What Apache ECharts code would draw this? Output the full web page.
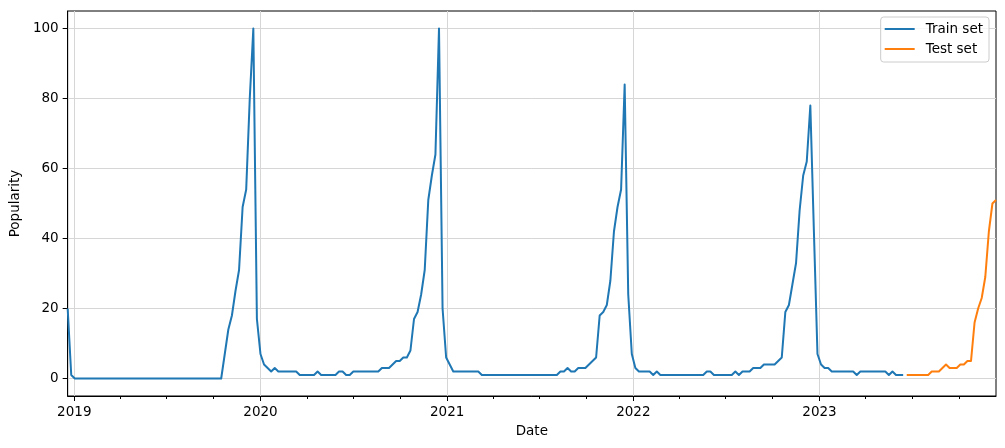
<!DOCTYPE html>
<html>
<head>
<meta charset="utf-8">
<title>Popularity</title>
<script src="https://cdn.jsdelivr.net/npm/echarts@6/dist/echarts.min.js"></script>
<style>
  html, body { margin: 0; padding: 0; background: #fff; }
  #chart { width: 1005px; height: 448px; }
</style>
</head>
<body>
<div id="chart"></div>
<script>
// first week of the series, one point per week after that
const startDate = '2018-12-19';

const trainValues = [
  20, 1, 0, 0, 0, 0, 0, 0, 0, 0,
  0, 0, 0, 0, 0, 0, 0, 0, 0, 0,
  0, 0, 0, 0, 0, 0, 0, 0, 0, 0,
  0, 0, 0, 0, 0, 0, 0, 0, 0, 0,
  0, 0, 0, 0, 7, 14, 18, 25, 31, 49,
  54, 80, 100, 17, 7, 4, 3, 2, 3, 2,
  2, 2, 2, 2, 2, 1, 1, 1, 1, 1,
  2, 1, 1, 1, 1, 1, 2, 2, 1, 1,
  2, 2, 2, 2, 2, 2, 2, 2, 3, 3,
  3, 4, 5, 5, 6, 6, 8, 17, 19, 24,
  31, 51, 58, 64, 100, 20, 6, 4, 2, 2,
  2, 2, 2, 2, 2, 2, 1, 1, 1, 1,
  1, 1, 1, 1, 1, 1, 1, 1, 1, 1,
  1, 1, 1, 1, 1, 1, 1, 1, 2, 2,
  3, 2, 2, 3, 3, 3, 4, 5, 6, 18,
  19, 21, 28, 42, 49, 54, 84, 24, 7, 3,
  2, 2, 2, 2, 1, 2, 1, 1, 1, 1,
  1, 1, 1, 1, 1, 1, 1, 1, 1, 2,
  2, 1, 1, 1, 1, 1, 1, 2, 1, 2,
  2, 2, 3, 3, 3, 4, 4, 4, 4, 5,
  6, 19, 21, 27, 33, 48, 58, 62, 78, 42,
  7, 4, 3, 3, 2, 2, 2, 2, 2, 2,
  2, 1, 2, 2, 2, 2, 2, 2, 2, 2,
  1, 2, 1, 1, 1
];

const testValues = [
  1, 1, 1, 1, 1, 1, 1, 2, 2, 2,
  3, 4, 3, 3, 3, 4, 4, 5, 5, 16,
  20, 23, 29, 42, 50, 51
];

const yTicks = [0, 20, 40, 60, 80, 100];
const yearTicks = ['2019-01-01', '2020-01-01', '2021-01-01', '2022-01-01', '2023-01-01'];
const quarterTicks = [
  '2019-04-01', '2019-07-01', '2019-10-01',
  '2020-04-01', '2020-07-01', '2020-10-01',
  '2021-04-01', '2021-07-01', '2021-10-01',
  '2022-04-01', '2022-07-01', '2022-10-01',
  '2023-04-01', '2023-07-01', '2023-10-01'
];

const WEEK = 7 * 24 * 3600 * 1000;
const t0 = Date.parse(startDate);
const dates = [];
for (let i = 0; i < trainValues.length + testValues.length; i++) {
  dates.push(t0 + i * WEEK);
}
const trainData = trainValues.map((v, i) => [dates[i], v]);
const testData = testValues.map((v, i) => [dates[trainValues.length + i], v]);

const font = 'DejaVu Sans';
const gridColor = '#d6d6d6';

const option = {
  animation: false,
  backgroundColor: '#fff',
  textStyle: { fontFamily: font, color: '#000' },
  grid: {
    left: 67, right: 9, top: 11, bottom: 52,
    show: true, borderColor: '#000', borderWidth: 1, backgroundColor: 'transparent'
  },
  legend: {
    right: 16, top: 17,
    orient: 'vertical',
    icon: 'rect',
    itemWidth: 30, itemHeight: 2,
    itemGap: 6,
    padding: [5, 6, 6, 4],
    borderColor: '#cccccc', borderWidth: 1, borderRadius: 3,
    backgroundColor: 'rgba(255,255,255,0.8)',
    textStyle: { fontFamily: font, fontSize: 13.5, color: '#000', padding: [0, 0, 0, 6] },
    data: ['Train set', 'Test set']
  },
  xAxis: [{
    type: 'value',
    min: dates[0], max: dates[dates.length - 1],
    name: 'Date', nameLocation: 'middle', nameGap: 28,
    nameTextStyle: { fontFamily: font, fontSize: 13.5, color: '#000' },
    axisLine: { show: true, onZero: false, lineStyle: { color: '#000', width: 1 } },
    axisTick: { show: true, length: 5, customValues: yearTicks.map(d => Date.parse(d)), lineStyle: { color: '#000' } },
    axisLabel: {
      customValues: yearTicks.map(d => Date.parse(d)),
      formatter: v => String(new Date(v).getUTCFullYear()),
      fontFamily: font, fontSize: 13.5, color: '#000', margin: 9
    },
    splitLine: { show: true, lineStyle: { color: gridColor, width: 1 } }
  }, {
    // quarter minor ticks
    type: 'value',
    position: 'bottom',
    min: dates[0], max: dates[dates.length - 1],
    axisLine: { show: false, onZero: false },
    axisTick: { show: true, length: 3, customValues: quarterTicks.map(d => Date.parse(d)), lineStyle: { color: '#000' } },
    axisLabel: { show: false },
    splitLine: { show: false }
  }],
  yAxis: {
    type: 'value',
    min: -5, max: 105,
    name: 'Popularity', nameLocation: 'middle', nameGap: 41, nameRotate: 90,
    nameTextStyle: { fontFamily: font, fontSize: 13.5, color: '#000' },
    axisLine: { show: true, onZero: false, lineStyle: { color: '#000', width: 1 } },
    axisTick: { show: true, length: 5, customValues: yTicks, lineStyle: { color: '#000' } },
    axisLabel: { customValues: yTicks, fontFamily: font, fontSize: 13.5, color: '#000', margin: 9 },
    splitLine: { show: true, lineStyle: { color: gridColor, width: 1 } }
  },
  series: [
    {
      name: 'Train set', type: 'line', xAxisIndex: 0,
      data: trainData,
      showSymbol: false, symbol: 'none',
      itemStyle: { color: '#1f77b4' },
      lineStyle: { color: '#1f77b4', width: 2, join: 'round' }
    },
    {
      name: 'Test set', type: 'line', xAxisIndex: 0,
      data: testData,
      showSymbol: false, symbol: 'none',
      itemStyle: { color: '#ff7f0e' },
      lineStyle: { color: '#ff7f0e', width: 2, join: 'round' }
    }
  ]
};

const myChart = echarts.init(document.getElementById('chart'));
myChart.setOption(option);
</script>
</body>
</html>
